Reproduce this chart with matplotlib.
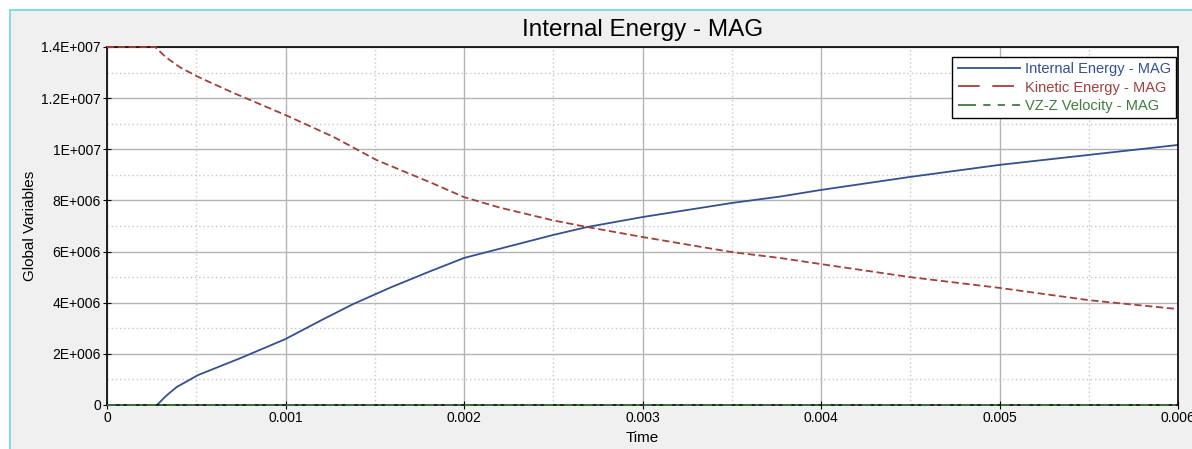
import matplotlib
matplotlib.use("Agg")
import matplotlib.pyplot as plt
from matplotlib.patches import Rectangle
from matplotlib.ticker import FixedLocator, MultipleLocator

plt.rcParams["font.family"] = ["Liberation Sans", "DejaVu Sans"]

# Datos
t_internal = [0.00028, 0.00033, 0.00039, 0.00051, 0.00075, 0.001, 0.00121,
              0.00138, 0.00159, 0.0018, 0.002, 0.0025, 0.00269, 0.003,
              0.0035, 0.00377, 0.004, 0.0045, 0.005, 0.0055, 0.006]
internal = [0.0, 0.35e6, 0.7e6, 1.17e6, 1.84e6, 2.58e6, 3.35e6,
            3.95e6, 4.6e6, 5.2e6, 5.75e6, 6.65e6, 6.96e6, 7.35e6,
            7.9e6, 8.15e6, 8.41e6, 8.92e6, 9.39e6, 9.78e6, 10.17e6]

t_kinetic = [0.0, 0.00027, 0.00033, 0.00041, 0.00052, 0.00071, 0.001, 0.00127,
             0.00151, 0.00183, 0.002, 0.0022, 0.0025, 0.00269, 0.003, 0.0035,
             0.00377, 0.004, 0.0045, 0.005, 0.0055, 0.006]
kinetic = [14.0e6, 14.0e6, 13.6e6, 13.2e6, 12.8e6, 12.2e6, 11.34e6, 10.48e6,
           9.58e6, 8.65e6, 8.13e6, 7.72e6, 7.22e6, 6.96e6, 6.57e6, 5.98e6,
           5.75e6, 5.51e6, 5.0e6, 4.58e6, 4.1e6, 3.75e6]

t_velocity = [0.0, 0.006]
velocity = [0.0, 0.0]

x_ticks = [0, 0.001, 0.002, 0.003, 0.004, 0.005, 0.006]
x_labels = ["0", "0.001", "0.002", "0.003", "0.004", "0.005", "0.006"]
y_ticks = [0, 2e6, 4e6, 6e6, 8e6, 10e6, 12e6, 14e6]
y_labels = ["0", "2E+006", "4E+006", "6E+006", "8E+006", "1E+007", "1.2E+007", "1.4E+007"]

fig = plt.figure(figsize=(11.92, 4.49), dpi=100, facecolor="white")
# marco gris con borde cian
fig.patches.append(Rectangle((10 / 1192, -0.01), 1.0, (449 - 10) / 449 + 0.01,
                             transform=fig.transFigure, facecolor="#f0f0f0",
                             edgecolor="#6fd8d8", linewidth=1.2, zorder=0))

ax = fig.add_axes([107 / 1192, 44 / 449, (1178 - 107) / 1192, (405 - 47) / 449])
ax.set_zorder(2)
ax.set_facecolor("white")

ax.plot(t_internal, internal, color="#34508f", lw=1.3, label="Internal Energy - MAG")
ax.plot(t_kinetic, kinetic, color="#a2403a", lw=1.3, dashes=(4, 2),
        label="Kinetic Energy - MAG", clip_on=False, zorder=4)
ax.plot(t_velocity, velocity, color="#3d7d3d", lw=1.3, dashes=(5, 2, 2, 2),
        label="VZ-Z Velocity - MAG", clip_on=False, zorder=4)

ax.set_xlim(0, 0.006)
ax.set_ylim(0, 14e6)
ax.xaxis.set_major_locator(FixedLocator(x_ticks))
ax.set_xticklabels(x_labels)
ax.yaxis.set_major_locator(FixedLocator(y_ticks))
ax.set_yticklabels(y_labels)
ax.xaxis.set_minor_locator(MultipleLocator(0.0005))
ax.yaxis.set_minor_locator(MultipleLocator(1e6))

ax.grid(True, which="major", color="#b4b4b4", lw=1.0)
ax.grid(True, which="minor", color="#c8c8c8", lw=1.0, linestyle=(0, (1, 2)))
ax.set_axisbelow(True)

ax.tick_params(which="major", direction="inout", length=6, labelsize=10,
               colors="black", pad=1.5)
ax.tick_params(which="minor", length=0)
for s in ax.spines.values():
    s.set_color("black")
    s.set_linewidth(1.2)

ax.set_xlabel("Time", fontsize=11, labelpad=4)
ax.set_ylabel("Global Variables", fontsize=11, labelpad=3)
ax.set_title("Internal Energy - MAG", fontsize=17.5, pad=8)

leg = ax.legend(loc="upper right", bbox_to_anchor=(0.998, 0.972), fontsize=10.5,
                handlelength=4.3, handletextpad=0.3, borderpad=0.35,
                labelspacing=0.3, borderaxespad=0.0, fancybox=False,
                framealpha=1.0, edgecolor="black")
leg.get_frame().set_linewidth(1.0)
for txt, ln in zip(leg.get_texts(), leg.get_lines()):
    txt.set_color(ln.get_color())
# trazos del legend mas largos como en la referencia
leg.get_lines()[1].set_dashes((12, 7))
leg.get_lines()[2].set_dashes((10, 4, 4, 4, 4, 4))

fig.savefig("out.png", dpi=100, facecolor=fig.get_facecolor())
